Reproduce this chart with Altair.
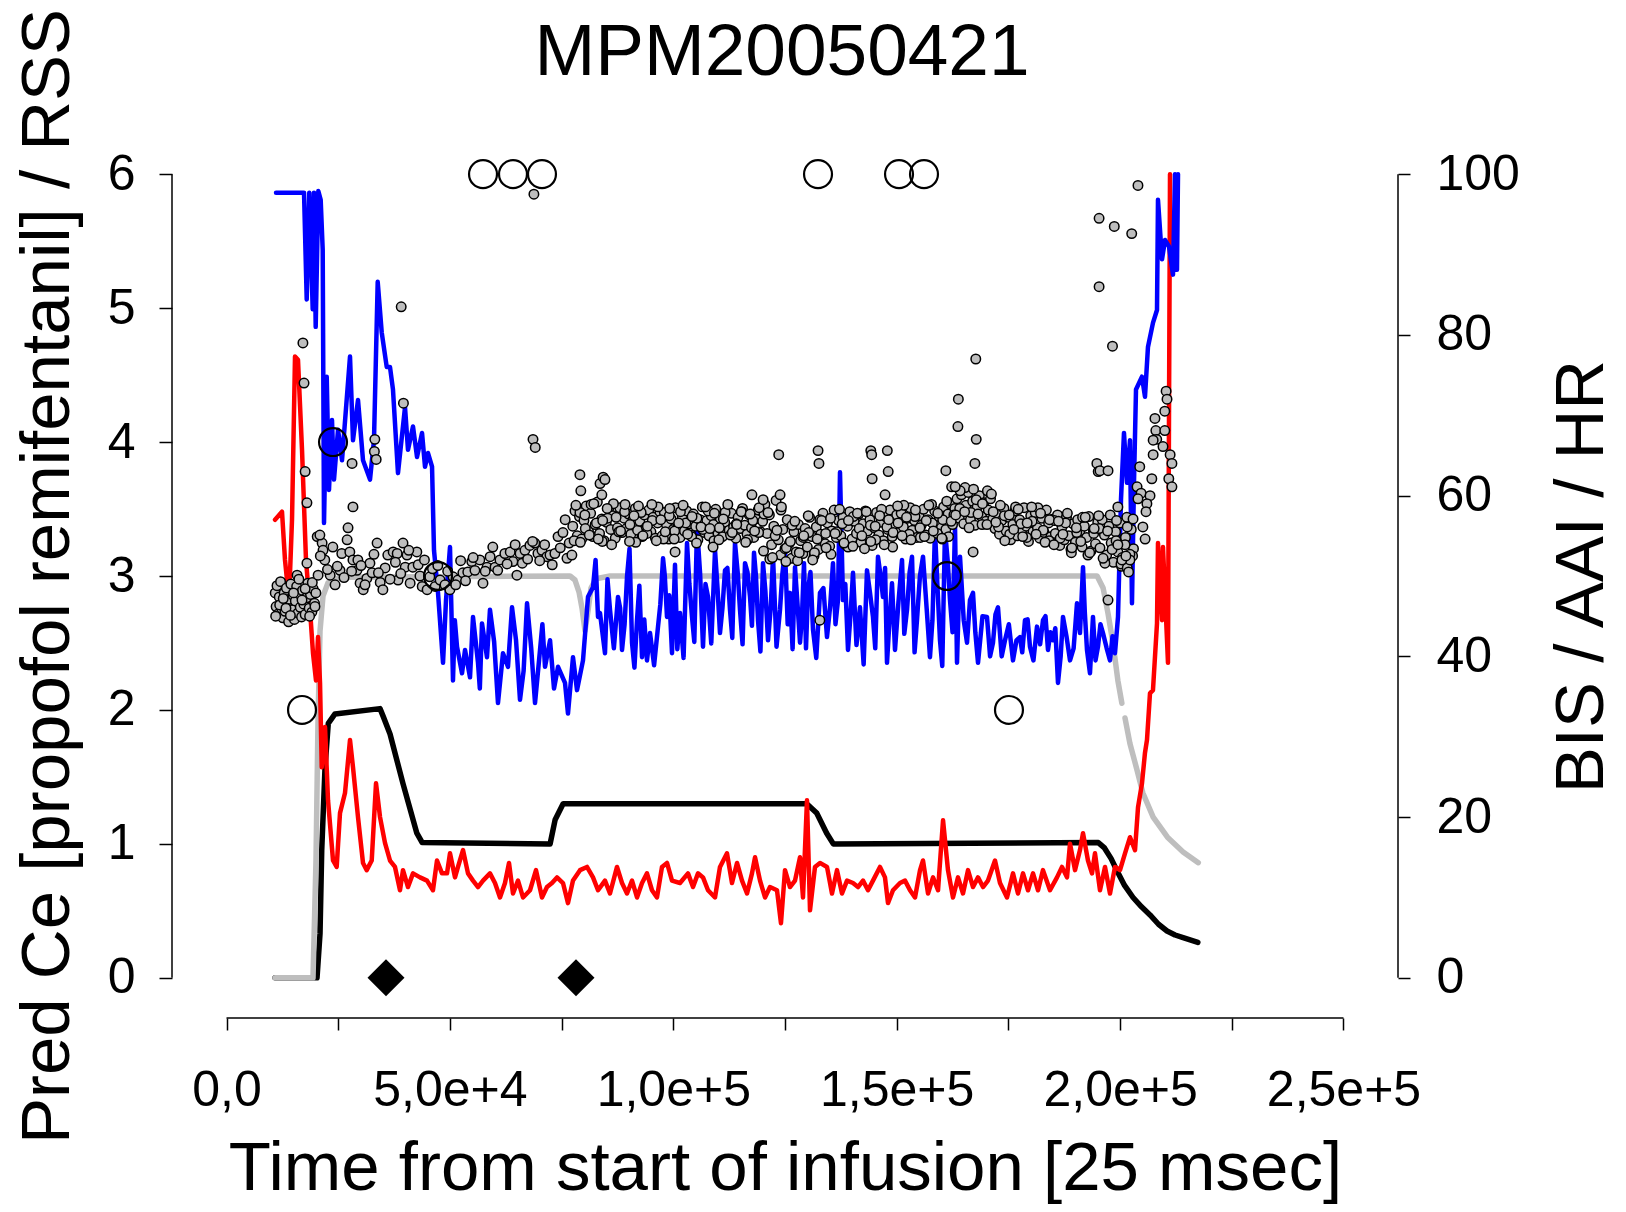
import altair as alt
import pandas as pd

# ------------------------------------------------------------------
# Data (time in thousands of 25-msec samples)
# ------------------------------------------------------------------
TIME_UNIT = 1000

# Predicted Ce propofol (grey line, left axis) - two pieces (gap near 2.0e5)
propofol_time_a = [10.86, 19.36, 20.03, 20.48, 20.93, 21.60, 22.72, 25.40, 76.88, 78.0, 78.9,
                   79.57, 80.24, 80.91, 81.58, 82.70, 85.83, 194.85, 196.2, 197.3, 198.4, 199.5, 200.4]
propofol_ce_a = [0, 0, 0.88, 1.92, 2.59, 2.85, 2.95, 2.99, 3.00, 2.97, 2.88,
                 2.76, 2.59, 2.74, 2.91, 2.98, 3.0, 3.0, 2.91, 2.72, 2.50, 2.22, 2.05]
propofol_time_b = [201.1, 202.2, 203.8, 205.1, 207.4, 210.6, 214.1, 217.5]
propofol_ce_b = [1.94, 1.75, 1.55, 1.38, 1.20, 1.05, 0.94, 0.86]

# Predicted Ce remifentanil (black line, left axis)
remi_time = [10.86, 20.26, 20.93, 21.31, 22.05, 22.78, 24.28, 34.36, 35.09, 36.6,
             39.5, 42.6, 43.8, 72.43, 73.55, 75.34, 129.86, 132.09, 134.33, 135.81,
             195.12, 196.5, 198.0, 199.3, 201.0, 202.9, 204.8, 206.7, 208.6, 210.5,
             212.3, 214.1, 217.4]
remi_ce = [0, 0, 0.33, 0.95, 1.57, 1.90, 1.97, 2.01, 1.95, 1.82,
           1.45, 1.08, 1.01, 1.00, 1.18, 1.30, 1.30, 1.23, 1.08, 1.00,
           1.01, 0.97, 0.89, 0.80, 0.69, 0.60, 0.53, 0.47, 0.40, 0.35,
           0.32, 0.30, 0.265]

# BIS (blue line, right axis)
bis_time = [11.08, 16.83, 17.35, 17.95, 18.53, 19.29, 19.58, 19.96, 20.55, 21.08,
            21.53, 21.82, 22.43, 22.94, 23.61, 24.06, 24.96, 25.85, 27.64, 28.31,
            29.43, 30.55, 32.12, 33.01, 33.84, 34.74, 35.86, 36.59, 37.26, 38.38,
            39.95, 40.62, 41.74, 42.64, 43.76, 44.43, 45.10, 46.0, 46.44, 47.34,
            48.46, 49.13, 50.02, 50.69, 51.59, 52.71, 53.38, 54.50, 55.17, 56.29,
            57.18, 58.30, 58.97, 60.76, 61.88, 63.0, 63.90, 65.69, 67.26, 69.05,
            70.17, 71.29, 72.41, 74.20, 75.76, 76.43, 77.55, 78.45, 79.79, 80.91,
            82.03, 83.15, 83.59, 84.71, 85.83, 87.62, 88.52, 89.64, 90.76, 91.88,
            93.0, 94.11, 94.79, 96.58, 97.70, 98.59, 99.71, 100.38, 101.50, 103.07,
            104.19, 105.31, 106.65, 107.77, 109.34, 110.45, 111.57, 112.69, 113.81, 114.93,
            116.05, 117.17, 118.06, 118.96, 120.08, 121.20, 122.32, 123.88, 125.0, 126.12,
            127.24, 128.36, 129.25, 130.15, 131.27, 132.83, 134.40, 135.74, 136.86, 137.31,
            137.98, 139.10, 140.22, 141.78, 143.35, 144.69, 145.81, 146.93, 147.83, 148.95,
            149.62, 151.19, 152.31, 153.43, 154.54, 155.89, 157.45, 158.57, 159.69, 160.81,
            161.93, 163.05, 163.50, 164.17, 165.74, 167.08, 168.20, 170.21, 171.55, 172.67,
            174.24, 176.03, 177.59, 178.71, 179.83, 181.40, 182.74, 183.86, 184.98, 186.10,
            187.22, 188.79, 190.35, 191.02, 191.70, 192.59, 193.26, 193.93, 195.05, 196.17,
            197.74, 198.86, 199.53, 200.20, 200.87, 201.54, 202.22, 202.66, 203.11, 203.56,
            204.90, 205.57, 206.24, 207.36, 208.26, 208.48, 209.38, 210.05, 210.94, 211.84,
            212.29, 212.73, 212.96]
bis_value = [97.7, 97.7, 97.7, 84.4, 97.7, 83.2, 97.7, 81.0, 97.9, 96.8,
             90.6, 56.6, 74.8, 60.7, 69.4, 62.0, 68.2, 64.4, 77.3, 66.9,
             71.9, 64.4, 62.0, 66.9, 86.6, 80.3, 76.0, 76.0, 73.2, 62.8,
             71.0, 65.7, 68.6, 64.8, 67.8, 63.6, 65.3, 63.6, 53.2, 47.9,
             39.2, 47.0, 53.6, 37.0, 41.2, 37.9, 40.8, 37.4, 44.9, 39.2,
             44.1, 39.9, 45.8, 34.2, 40.4, 38.7, 46.1, 34.6, 46.6, 34.2,
             40.8, 38.7, 42.0, 38.7, 36.7, 32.9, 39.9, 35.8, 39.5, 47.4,
             48.6, 44.9, 45.4, 40.4, 45.8, 47.4, 40.8, 49.9, 41.7, 44.5,
             39.9, 39.5, 42.9, 43.7, 52.2, 44.9, 40.4, 51.4, 45.4, 54.1,
             44.9, 56.1, 41.2, 47.4, 53.2, 42.9, 50.7, 45.8, 54.1, 45.8,
             51.6, 47.4, 52.9, 44.5, 51.6, 42.0, 52.4, 45.8, 53.2, 47.9,
             51.1, 41.7, 51.6, 48.3, 43.3, 47.9, 42.4, 51.6, 47.0, 62.9,
             47.0, 40.8, 50.4, 46.1, 50.7, 44.9, 52.4, 47.4, 39.2, 49.1,
             40.8, 52.0, 45.8, 52.4, 44.5, 52.4, 39.9, 55.7, 42.0, 55.7,
             47.0, 56.3, 39.2, 52.4, 41.7, 47.9, 39.2, 44.9, 41.7, 46.1,
             42.0, 39.5, 42.4, 44.5, 41.2, 43.7, 44.5, 40.8, 42.0, 36.7,
             44.9, 39.5, 46.6, 42.9, 51.1, 40.8, 37.9, 44.9, 41.2, 42.9,
             39.5, 40.4, 44.9, 59.5, 67.8, 61.6, 66.9, 46.6, 61.6, 73.2,
             74.8, 72.3, 78.5, 81.5, 83.1, 96.8, 89.4, 91.8, 91.0, 87.5,
             100.0, 88.1, 100.0]
# additional BIS samples in the noisy maintenance phase, as (time, value)
bis_extra = [
    (51.1, 44.5), (56.7, 36.0), (59.9, 41.8), (64.8, 42.0), (66.5, 38.2), (68.2, 41.0), (70.7, 44.0),
    (73.3, 36.0), (82.6, 52.0), (85.27, 49.6), (86.7, 41.0), (88.1, 46.0), (89.1, 44.0), (90.2, 53.4),
    (91.3, 38.6), (92.4, 48.8), (93.5, 44.6), (95.7, 38.9), (97.1, 46.5), (98.1, 50.0), (99.1, 47.6),
    (100.9, 40.9), (102.3, 39.8), (103.6, 49.0), (104.7, 41.8), (106.0, 50.3), (107.2, 49.0),
    (108.5, 41.6), (109.9, 48.5), (111.0, 46.0), (112.1, 51.0), (113.2, 42.3), (114.4, 50.5),
    (115.5, 41.5), (116.6, 50.5), (117.6, 43.8), (118.5, 50.0), (119.5, 40.6), (120.6, 48.2),
    (121.8, 46.0), (123.1, 41.2), (124.4, 50.2), (125.6, 44.0), (126.7, 40.9), (127.8, 46.5),
    (128.8, 45.0), (129.7, 41.0), (130.7, 50.5), (132.0, 39.8), (133.6, 48.5), (135.1, 46.2),
    (136.3, 44.0), (138.5, 49.0), (139.7, 45.5), (141.0, 41.4), (142.6, 39.0), (144.0, 48.0),
    (145.2, 41.0), (146.4, 50.0), (147.4, 51.0), (148.4, 44.6), (150.4, 46.8), (151.7, 42.8),
    (152.9, 50.5), (154.0, 40.5), (155.2, 50.0), (156.7, 46.0), (158.0, 44.5), (159.1, 49.0),
    (160.2, 38.8), (161.4, 52.0), (162.5, 43.0), (165.0, 44.5), (166.4, 47.0), (167.6, 43.0),
    (169.2, 45.0), (170.9, 40.0), (172.1, 45.2), (173.5, 40.0), (175.1, 44.0), (176.8, 42.0),
    (178.1, 40.5), (179.3, 44.6), (180.6, 39.5), (182.1, 41.5), (183.3, 45.0), (184.4, 43.0),
    (185.5, 43.5), (186.7, 40.0), (188.0, 42.5), (189.6, 41.0), (192.1, 45.5), (194.5, 39.5),
    (195.6, 44.0), (197.0, 41.0), (198.3, 42.5)]

# AAI (red line, right axis)
aai_time = [10.86, 12.42, 13.09, 13.99, 14.66, 15.33, 16.00, 16.90, 17.79, 18.69,
            19.36, 20.03, 20.48, 20.93, 21.31, 22.05, 22.72, 23.84, 24.66, 25.40,
            26.52, 27.64, 28.31, 29.43, 30.55, 31.38, 32.50, 33.46, 34.36, 35.47,
            36.59, 37.71, 38.83, 39.50, 40.62, 41.74, 43.31, 44.87, 46.21, 47.11,
            48.23, 49.35, 50.02, 51.14, 51.81, 52.93, 54.05, 55.17, 56.29, 57.41,
            58.97, 60.09, 61.21, 62.33, 63.23, 64.12, 65.24, 66.36, 67.93, 69.27,
            70.61, 71.73, 72.85, 73.97, 75.31, 76.43, 77.55, 79.12, 80.68, 82.03,
            83.15, 84.71, 85.83, 87.40, 88.52, 89.64, 90.76, 91.88, 93.0, 94.11,
            95.23, 96.35, 97.47, 98.59, 99.71, 101.50, 103.29, 104.41, 105.53, 106.65,
            107.77, 109.34, 110.45, 112.02, 113.14, 114.26, 115.38, 116.50, 117.61, 118.29,
            119.41, 120.53, 121.64, 123.21, 124.10, 125.0, 126.12, 127.24, 128.36, 129.03,
            129.92, 130.60, 131.71, 132.83, 134.40, 135.52, 136.64, 137.76, 138.88, 140.22,
            141.34, 142.46, 143.58, 144.69, 146.26, 147.38, 148.05, 149.17, 150.74, 151.86,
            152.98, 154.10, 155.22, 155.89, 157.01, 158.13, 159.25, 160.37, 161.48, 162.60,
            163.72, 164.84, 165.96, 167.08, 168.20, 169.32, 170.43, 172.0, 173.12, 174.69,
            176.03, 177.15, 178.27, 179.39, 180.51, 181.63, 182.74, 184.31, 185.88, 187.0,
            188.12, 188.79, 189.91, 191.02, 191.70, 192.81, 193.71, 194.38, 195.50, 196.62,
            197.74, 198.86, 199.98, 201.10, 202.22, 203.34, 204.01, 204.90, 205.57, 206.02,
            206.69, 207.36, 208.26, 208.48, 209.38, 209.60, 210.72, 211.17]
aai_value = [57.0, 58.0, 52.0, 47.0, 57.0, 77.3, 76.9, 65.7, 52.0, 45.8,
             40.4, 37.0, 42.4, 36.7, 26.2, 31.2, 22.1, 14.6, 13.8, 20.5,
             23.0, 29.6, 26.2, 20.0, 14.3, 13.4, 14.6, 24.2, 20.0, 16.8,
             14.6, 13.8, 10.9, 13.4, 11.3, 13.0, 12.5, 12.1, 10.9, 14.6,
             13.0, 13.0, 15.5, 12.5, 13.8, 15.9, 13.0, 12.1, 11.3, 12.1,
             13.0, 11.8, 10.0, 11.8, 14.3, 10.5, 12.1, 10.0, 10.9, 13.4,
             10.0, 11.3, 11.8, 12.5, 11.8, 9.3, 12.1, 13.4, 13.8, 12.5,
             10.9, 12.1, 10.5, 13.8, 11.8, 10.5, 12.1, 10.0, 11.8, 13.0,
             10.9, 10.0, 13.8, 14.3, 12.1, 11.8, 13.0, 11.3, 13.0, 12.5,
             10.9, 10.0, 13.8, 15.5, 11.8, 14.3, 12.1, 10.5, 13.0, 15.0,
             12.1, 10.0, 11.3, 10.9, 6.8, 13.4, 11.3, 12.1, 15.0, 10.0,
             22.1, 8.4, 13.8, 14.3, 13.8, 10.5, 13.4, 10.5, 12.1, 11.8,
             11.3, 12.1, 10.9, 12.1, 13.8, 12.5, 9.3, 10.9, 11.8, 12.1,
             10.9, 10.0, 13.4, 14.6, 10.5, 12.5, 10.9, 19.6, 13.4, 10.0,
             12.5, 10.5, 13.4, 11.3, 12.5, 11.3, 12.1, 14.6, 11.8, 10.0,
             13.0, 10.5, 13.0, 10.9, 13.0, 10.9, 13.4, 10.9, 12.5, 13.8,
             12.5, 16.7, 13.4, 15.9, 18.0, 14.6, 13.0, 15.5, 10.9, 13.8,
             10.5, 13.8, 13.4, 15.5, 17.5, 15.9, 21.2, 24.2, 28.0, 29.6,
             35.4, 35.8, 44.1, 54.1, 44.5, 53.6, 39.2, 100.0]

# Heart rate (grey dots, right axis) as (time, value) pairs
hr_induction = [(10.9, 47.9), (11.1, 46.2), (11.3, 48.8), (11.6, 45.3), (11.8, 47.4), (12.1, 49.3),
                (12.3, 46.0), (12.6, 44.8), (12.9, 47.9), (13.1, 45.6), (13.4, 48.5), (13.6, 46.7),
                (13.9, 44.3), (14.1, 47.1), (14.4, 49.0), (14.7, 45.8), (14.9, 47.6), (15.2, 44.6),
                (15.4, 46.9), (15.7, 48.7), (16.0, 45.4), (16.2, 47.8), (16.5, 46.1), (16.8, 44.9),
                (17.0, 48.2), (17.3, 46.5), (17.6, 45.2), (17.9, 47.3), (18.2, 49.1), (18.5, 46.0),
                (18.8, 47.7), (19.1, 45.5), (19.4, 48.4), (19.7, 46.6), (20.0, 47.9),
                (11.0, 45.0), (11.9, 46.4), (12.7, 47.2), (13.3, 46.0), (14.3, 45.1), (15.0, 47.9),
                (15.8, 50.1), (16.2, 49.6), (16.9, 47.0), (17.6, 48.4), (18.0, 51.6), (18.6, 45.0),
                (19.2, 49.2), (19.8, 46.2)]
hr_early = [(20.3, 54.9), (21.4, 54.1), (21.6, 53.2), (22.0, 52.0), (20.5, 50.1), (23.2, 50.1),
            (24.3, 48.9), (25.4, 50.7), (25.8, 52.8), (27.0, 54.5), (27.2, 56.0), (27.6, 53.0),
            (28.3, 52.0), (29.4, 52.0), (29.2, 50.7), (29.9, 49.1), (30.6, 48.3), (31.4, 49.7),
            (32.1, 51.6), (32.6, 50.4), (33.7, 54.1), (34.4, 49.2), (35.0, 48.3), (35.5, 51.0),
            (36.1, 52.6), (37.3, 53.0), (38.2, 52.8), (38.4, 49.5), (39.5, 54.1), (40.0, 51.1),
            (40.4, 52.6), (41.1, 49.1), (41.7, 51.1), (42.6, 53.0), (42.9, 51.4), (43.8, 48.7),
            (44.9, 48.3), (45.5, 49.9), (46.7, 48.7), (47.8, 49.5), (48.9, 48.9), (50.0, 48.3),
            (50.7, 49.9), (51.8, 49.5), (52.9, 50.4), (54.0, 50.5), (54.9, 51.8), (55.6, 50.7),
            (56.7, 52.0), (57.4, 49.1), (58.3, 51.1), (59.0, 52.4), (60.1, 51.1), (61.2, 52.0),
            (62.3, 52.8), (63.5, 53.0), (64.1, 51.8), (65.0, 50.1), (65.7, 52.8), (66.8, 53.2),
            (67.9, 53.8), (69.0, 54.1), (69.7, 52.8), (70.6, 53.2), (71.7, 52.4), (72.4, 52.6),
            (73.5, 52.8), (74.2, 54.9), (75.3, 55.4), (76.2, 52.2), (77.3, 52.6), (75.8, 57.0),
            (21.0, 52.5), (22.6, 50.8), (23.8, 53.6), (24.8, 51.2), (26.3, 49.8), (28.0, 50.6),
            (30.1, 51.3), (31.0, 48.9), (33.0, 52.7), (34.0, 50.4), (36.6, 49.6), (37.8, 51.7),
            (39.0, 50.3), (40.8, 53.2), (43.3, 50.0), (44.3, 52.0), (46.1, 50.9), (47.3, 51.3),
            (49.5, 50.6), (51.3, 48.9), (52.4, 51.9), (53.5, 49.4), (55.2, 52.3), (57.9, 50.6),
            (59.6, 53.6), (60.7, 50.7), (62.8, 51.5), (64.6, 53.9), (66.2, 51.6), (67.4, 52.1),
            (68.5, 54.3), (70.1, 51.9), (71.2, 53.9), (72.9, 51.4), (74.7, 53.5), (76.7, 54.1)]
hr_maintenance = [
    (77.5, 56.2), (78.0, 58.1), (78.5, 55.0), (79.0, 57.4), (79.5, 54.6), (80.0, 56.9), (80.5, 58.7),
    (81.0, 55.6), (81.5, 57.8), (82.0, 54.9), (82.5, 56.4), (83.0, 59.2), (83.5, 55.3), (84.0, 57.1),
    (84.5, 54.4), (85.0, 56.7), (85.5, 58.3), (86.0, 55.8), (86.5, 57.5), (87.0, 54.7), (87.5, 56.0),
    (88.0, 58.5), (88.5, 55.4), (89.0, 57.2), (89.5, 55.9), (90.0, 57.7),
    (90.5, 55.2), (91.0, 57.0), (91.5, 58.4), (92.0, 55.7), (92.5, 56.8), (93.0, 54.9), (93.5, 57.6),
    (94.0, 56.1), (94.5, 58.2), (95.0, 55.5), (95.5, 57.3), (96.0, 54.7), (96.5, 56.6), (97.0, 58.0),
    (97.5, 55.0), (98.0, 57.9), (98.5, 56.3), (99.0, 54.6), (99.5, 57.1), (100.0, 55.8), (100.5, 58.5),
    (101.0, 56.0), (101.5, 54.8), (102.0, 57.4), (102.5, 55.6), (103.0, 58.1), (103.5, 56.5),
    (104.0, 55.1), (104.5, 57.7), (105.0, 56.2), (105.5, 54.5), (106.0, 57.0), (106.5, 58.6),
    (107.0, 55.4), (107.5, 56.9), (108.0, 55.0), (108.5, 57.5), (109.0, 56.4), (109.5, 58.3),
    (110.0, 55.3), (110.5, 57.2), (111.0, 54.9), (111.5, 56.7), (112.0, 58.0), (112.5, 55.7),
    (113.0, 57.8), (113.5, 56.1), (114.0, 54.7), (114.5, 57.3), (115.0, 55.9), (115.5, 58.4),
    (116.0, 56.3), (116.5, 55.2), (117.0, 57.6), (117.5, 56.0), (118.0, 54.8), (118.5, 57.1),
    (119.0, 58.2), (119.5, 55.5), (120.0, 56.8),
    (120.5, 58.9), (121.0, 55.3), (121.5, 57.6), (122.0, 53.9), (122.5, 56.2), (123.0, 59.4),
    (123.5, 54.5), (124.0, 52.6), (124.5, 55.8), (125.0, 53.4), (125.5, 57.0), (126.0, 54.1),
    (126.5, 52.2), (127.0, 55.5), (127.5, 53.0), (128.0, 56.4), (128.5, 54.4), (129.0, 52.8),
    (129.5, 55.9), (130.0, 53.6), (130.5, 57.3), (131.0, 54.9), (131.5, 52.5), (132.0, 56.1),
    (132.5, 53.3), (133.0, 55.2), (133.5, 57.8), (134.0, 54.0), (134.5, 56.6), (135.0, 53.7),
    (135.5, 55.6), (136.0, 58.2), (136.5, 54.8), (137.0, 56.9),
    (137.5, 55.0), (138.0, 57.3), (138.5, 53.9), (139.0, 56.2), (139.5, 58.0), (140.0, 54.6),
    (140.5, 56.8), (141.0, 55.3), (141.5, 57.7), (142.0, 54.2), (142.5, 56.5), (143.0, 58.1),
    (143.5, 55.6), (144.0, 57.0), (144.5, 53.8), (145.0, 56.0), (145.5, 57.9), (146.0, 55.1),
    (146.5, 56.7), (147.0, 54.4), (147.5, 57.4), (148.0, 55.8), (148.5, 58.2), (149.0, 54.9),
    (149.5, 56.4), (150.0, 57.6),
    (150.5, 55.4), (151.0, 57.8), (151.5, 56.1), (152.0, 54.6), (152.5, 57.2), (153.0, 58.5),
    (153.5, 55.7), (154.0, 56.9), (154.5, 54.8), (155.0, 57.5), (155.5, 56.3), (156.0, 58.3),
    (156.5, 55.1), (157.0, 57.0), (157.5, 54.7), (158.0, 56.6), (158.5, 58.1), (159.0, 55.5),
    (159.5, 57.4), (160.0, 56.0), (160.5, 58.6), (161.0, 55.8), (161.5, 57.7), (162.0, 59.0),
    (162.5, 56.4), (163.0, 58.4),
    (163.5, 59.6), (164.0, 57.2), (164.5, 60.1), (165.0, 56.5), (165.5, 58.8), (166.0, 60.4),
    (166.5, 57.0), (167.0, 59.3), (167.5, 56.3), (168.0, 58.6), (168.5, 60.0), (169.0, 57.4),
    (169.5, 59.1), (170.0, 56.8), (170.5, 58.2), (171.0, 59.6), (171.5, 57.1), (172.0, 55.9),
    (172.5, 57.8), (173.0, 55.2), (173.5, 56.9), (174.0, 58.4), (174.5, 55.6), (175.0, 57.3),
    (175.5, 54.5), (176.0, 56.4), (176.5, 58.1), (177.0, 55.0), (177.5, 57.0), (178.0, 55.8),
    (178.5, 58.5), (179.0, 56.2), (179.5, 54.3), (180.0, 57.5), (180.5, 55.5), (181.0, 57.9),
    (181.5, 56.0), (182.0, 54.7), (182.5, 57.2), (183.0, 55.4), (183.5, 58.2), (184.0, 56.6),
    (184.5, 54.9), (185.0, 57.1),
    (185.5, 55.3), (186.0, 57.6), (186.5, 53.8), (187.0, 56.1), (187.5, 54.5), (188.0, 57.3),
    (188.5, 55.0), (189.0, 53.3), (189.5, 56.5), (190.0, 54.2), (190.5, 57.0), (191.0, 55.6),
    (191.5, 53.6), (192.0, 56.2), (192.5, 54.8), (193.0, 57.4), (193.5, 53.1), (194.0, 55.7),
    (194.5, 54.0), (195.0, 56.7),
    (195.5, 53.5), (196.0, 57.0), (196.5, 55.1), (197.0, 52.6), (197.5, 56.2), (198.0, 54.1),
    (198.5, 51.7), (199.0, 55.5), (199.5, 53.0), (200.0, 56.6), (200.5, 52.3), (201.0, 54.7),
    (201.5, 57.3), (202.0, 51.9), (202.5, 55.8), (203.0, 53.4)]
hr_maintenance_2 = [
    (77.8, 54.4), (79.1, 57.9), (80.3, 55.9), (81.6, 58.9), (82.8, 56.6), (84.1, 54.3), (85.3, 57.2),
    (86.6, 59.0), (87.8, 55.5), (89.1, 58.0), (90.3, 56.4), (91.6, 54.2), (92.8, 57.9), (94.1, 55.3),
    (95.3, 56.9), (96.6, 58.6), (97.8, 54.6), (99.1, 57.5), (100.3, 55.6), (101.6, 58.0), (102.8, 56.6),
    (104.1, 54.9), (105.3, 57.2), (106.6, 55.8), (107.8, 58.1), (109.1, 54.4), (110.3, 56.0),
    (111.6, 57.9), (112.8, 55.1), (114.1, 56.5), (115.3, 58.0), (116.6, 54.5), (117.8, 56.9),
    (119.1, 55.4), (120.3, 57.7), (121.6, 52.1), (122.8, 55.0), (124.1, 58.2), (125.3, 53.5),
    (126.6, 56.3), (127.8, 51.9), (129.1, 54.8), (130.3, 55.4), (131.6, 52.9), (132.8, 57.0),
    (134.1, 55.3), (135.3, 52.7), (136.6, 55.5), (137.8, 56.5), (139.1, 53.6), (140.3, 57.4),
    (141.6, 55.9), (142.8, 53.4), (144.1, 56.3), (145.3, 54.5), (146.6, 58.3), (147.8, 56.1),
    (149.1, 53.6), (150.3, 56.6), (151.6, 58.8), (152.8, 55.2), (154.1, 57.4), (155.3, 54.8),
    (156.6, 56.9), (157.8, 58.9), (159.1, 55.3), (160.3, 57.0), (161.6, 54.9), (162.8, 57.6),
    (164.1, 58.4), (165.3, 61.0), (166.6, 57.9), (167.8, 59.5), (169.1, 56.4), (170.3, 60.6),
    (171.6, 58.0), (172.8, 56.1), (174.1, 57.5), (175.3, 55.2), (176.6, 58.6), (177.8, 56.5),
    (179.1, 54.8), (180.3, 56.8), (181.6, 58.5), (182.8, 55.7), (184.1, 54.4), (185.3, 56.9),
    (186.6, 54.7), (187.8, 56.6), (189.1, 52.9), (190.3, 55.4), (191.6, 57.3), (192.8, 52.6),
    (194.1, 55.3), (195.3, 55.9), (196.6, 51.6), (197.8, 57.6), (199.1, 54.4), (200.3, 51.2),
    (201.6, 56.1), (202.8, 52.5)]
hr_maintenance_3 = [
    (78.2, 58.8), (79.2, 54.2), (80.2, 57.6), (81.2, 55.1), (82.2, 59.0), (83.2, 54.6), (84.2, 56.9),
    (85.2, 58.4), (86.2, 53.9), (87.2, 57.3), (88.2, 55.6), (89.2, 58.9),
    (90.2, 54.3), (91.2, 57.5), (92.2, 58.7), (93.2, 55.0), (94.2, 56.2), (95.2, 58.9), (96.2, 54.4),
    (97.2, 57.0), (98.2, 55.5), (99.2, 58.4), (100.2, 54.6), (101.2, 56.6), (102.2, 58.8), (103.2, 55.2),
    (104.2, 57.4), (105.2, 54.1), (106.2, 56.1), (107.2, 58.6), (108.2, 55.9), (109.2, 57.8),
    (110.2, 54.5), (111.2, 57.1), (112.2, 58.9), (113.2, 55.4), (114.2, 56.4), (115.2, 58.0),
    (116.2, 54.2), (117.2, 57.7), (118.2, 55.6), (119.2, 58.5),
    (120.2, 53.1), (121.2, 57.9), (122.2, 52.3), (123.2, 55.7), (124.2, 58.6), (125.2, 51.8),
    (126.2, 54.3), (127.2, 56.8), (128.2, 52.9), (129.2, 55.0), (130.2, 57.5), (131.2, 52.0),
    (132.2, 54.6), (133.2, 56.9), (134.2, 53.5), (135.2, 57.2), (136.2, 55.3),
    (137.2, 58.3), (138.2, 54.1), (139.2, 56.9), (140.2, 53.7), (141.2, 57.8), (142.2, 55.0),
    (143.2, 58.0), (144.2, 54.3), (145.2, 56.2), (146.2, 57.5), (147.2, 53.9), (148.2, 57.0),
    (149.2, 55.4),
    (150.2, 58.7), (151.2, 55.0), (152.2, 57.3), (153.2, 54.5), (154.2, 58.2), (155.2, 56.0),
    (156.2, 54.9), (157.2, 58.8), (158.2, 55.6), (159.2, 57.8), (160.2, 54.6), (161.2, 59.3),
    (162.2, 56.8),
    (163.2, 57.6), (164.2, 60.6), (165.2, 58.0), (166.2, 56.0), (167.2, 60.8), (168.2, 57.7),
    (169.2, 59.0), (170.2, 56.4), (171.2, 60.2),
    (172.2, 56.7), (173.2, 58.8), (174.2, 54.4), (175.2, 57.6), (176.2, 55.8), (177.2, 58.3),
    (178.2, 54.9), (179.2, 56.6), (180.2, 58.6), (181.2, 55.2), (182.2, 57.8), (183.2, 54.2),
    (184.2, 57.0),
    (185.2, 53.9), (186.2, 56.8), (187.2, 55.2), (188.2, 57.8), (189.2, 53.5), (190.2, 56.0),
    (191.2, 54.3), (192.2, 57.3), (193.2, 52.9), (194.2, 55.9),
    (195.2, 57.5), (196.2, 52.2), (197.2, 55.6), (198.2, 53.3), (199.2, 56.9), (200.2, 51.5),
    (201.2, 54.8), (202.2, 52.7)]
hr_outliers = [
    (17.1, 79.0), (17.35, 74.0), (17.6, 63.0), (18.0, 59.1), (20.9, 55.1), (28.1, 64.0), (28.3, 58.6),
    (33.2, 67.0), (33.1, 65.5), (33.5, 64.5), (39.1, 83.5), (39.6, 71.5), (68.6, 67.0), (69.1, 66.0),
    (68.8, 97.5), (79.1, 62.6), (79.3, 60.6), (83.6, 61.5), (84.3, 62.3), (84.7, 62.0), (84.0, 60.1),
    (100.4, 53.0), (108.9, 53.6), (117.6, 60.1), (123.6, 65.1), (132.4, 65.6), (132.6, 64.0),
    (123.9, 60.1), (120.1, 59.5), (132.8, 44.5), (144.2, 65.6), (144.4, 65.1), (144.5, 62.1),
    (147.9, 65.6), (148.1, 63.0), (147.4, 60.1), (160.1, 54.7), (161.0, 63.1), (162.3, 61.1),
    (163.1, 61.1), (163.8, 72.0), (163.7, 68.6), (167.7, 77.0), (167.8, 67.0), (167.5, 64.0),
    (167.1, 53.0), (195.3, 94.5), (195.3, 86.0), (194.8, 64.0), (195.1, 63.0), (195.5, 63.1),
    (197.3, 63.1), (198.7, 93.5), (202.6, 92.6), (204.0, 98.6), (198.3, 78.6), (197.3, 47.0),
    (199.5, 58.6), (202.9, 57.1), (205.1, 56.1), (205.6, 54.6), (203.8, 61.1), (204.7, 60.3),
    (204.0, 59.6), (206.7, 60.0), (206.0, 59.0), (205.8, 58.0), (207.8, 69.6), (208.0, 68.1),
    (210.0, 68.1), (208.2, 67.0), (207.4, 66.9), (209.6, 66.1), (207.4, 65.1), (210.3, 73.0),
    (210.5, 72.0), (210.0, 70.5), (211.2, 65.1), (211.6, 64.0), (210.9, 62.1), (211.6, 61.1),
    (204.4, 63.6), (207.1, 62.1), (201.6, 51.0), (202.2, 52.0), (201.1, 53.9), (199.5, 53.9),
    (200.4, 52.0), (201.3, 52.5), (201.9, 50.5)]

# RSS (open circles, left axis)
rss_time = [16.90, 23.84, 47.34, 57.41, 64.12, 70.61, 132.39, 150.52, 156.11, 161.26, 175.13]
rss_value = [2, 4, 3, 6, 6, 6, 6, 6, 6, 3, 2]

# Events (black diamonds, left axis)
event_time = [35.70, 78.22]
event_value = [0, 0]

# Axis ticks and labels
left_ticks = [0, 1, 2, 3, 4, 5, 6]
right_ticks = [0, 20, 40, 60, 80, 100]
x_ticks = [0, 25000, 50000, 75000, 100000, 125000, 150000, 175000, 200000, 225000, 250000]
x_label_values = [0, 50000, 100000, 150000, 200000, 250000]
x_label_text = ["0,0", "5,0e+4", "1,0e+5", "1,5e+5", "2,0e+5", "2,5e+5"]

TITLE = "MPM20050421"
LEFT_TITLE = "Pred Ce [propofol remifentanil] / RSS"
RIGHT_TITLE = "BIS / AAI / HR"
X_TITLE = "Time from start of infusion [25 msec]"

# ------------------------------------------------------------------
# Build tables
# ------------------------------------------------------------------
def series(times, values):
    return pd.DataFrame({"t": [t * TIME_UNIT for t in times], "v": values})

def pairs(*groups):
    rows = [p for g in groups for p in g]
    return pd.DataFrame({"t": [p[0] * TIME_UNIT for p in rows], "v": [p[1] for p in rows]})

prop_a = series(propofol_time_a, propofol_ce_a); prop_a["seg"] = "a"
prop_b = series(propofol_time_b, propofol_ce_b); prop_b["seg"] = "b"
prop_df = pd.concat([prop_a, prop_b], ignore_index=True)
remi_df = series(remi_time, remi_ce)
bis_df = pd.concat([series(bis_time, bis_value), pairs(bis_extra)], ignore_index=True)
bis_df = bis_df.sort_values("t").reset_index(drop=True)
aai_df = series(aai_time, aai_value)
hr_df = pairs(hr_induction, hr_early, hr_maintenance, hr_maintenance_2, hr_maintenance_3, hr_outliers)
rss_df = series(rss_time, rss_value)
event_df = series(event_time, event_value)

# ------------------------------------------------------------------
# Layout
# ------------------------------------------------------------------
W, H = 1226, 868
FONT = "Liberation Sans"
xs = alt.Scale(domain=[-12200, 262200], nice=False, zero=False)
yl = alt.Scale(domain=[-0.24, 6.24], nice=False, zero=False)
yr = alt.Scale(domain=[-4, 104], nice=False, zero=False)

label_expr = "".join(
    f"datum.value == {v} ? '{s}' : " for v, s in zip(x_label_values, x_label_text)
) + "''"

axis_common = dict(domain=False, grid=False, tickColor="black", tickWidth=1.5,
                   labelFont=FONT, labelColor="black", labelFontSize=50,
                   titleFont=FONT, titleColor="black", titleFontSize=69,
                   titleFontWeight="normal", labelOverlap=False, labelFlush=False)

X_AXIS = alt.Axis(orient="bottom", values=x_ticks, offset=8, tickSize=12, labelPadding=75,
                  labelBaseline="alphabetic", labelExpr=label_expr,
                  title=X_TITLE, titleX=W / 2, titleY=171, titleAlign="center",
                  titleBaseline="alphabetic", **axis_common)
X_ENC = alt.X("t:Q", scale=xs, axis=X_AXIS)

left_axis = alt.Chart(pd.DataFrame({"a": [left_ticks[0]], "b": [left_ticks[-1]]})).mark_rule(
    color="black", strokeWidth=1.5
).encode(
    x=alt.value(0),
    y=alt.Y("a:Q", scale=yl, axis=alt.Axis(
        orient="left", values=left_ticks, tickSize=13, labelPadding=24,
        title=LEFT_TITLE, titleAngle=270, titleX=-125, titleY=H / 2,
        titleAlign="center", titleBaseline="middle", **axis_common)),
    y2="b:Q",
)

right_axis = alt.Chart(pd.DataFrame({"a": [right_ticks[0]], "b": [right_ticks[-1]]})).mark_rule(
    color="black", strokeWidth=1.5
).encode(
    x=alt.value(W),
    y=alt.Y("a:Q", scale=yr, axis=alt.Axis(
        orient="right", values=right_ticks, tickSize=12, labelPadding=26,
        title=RIGHT_TITLE, titleAngle=270, titleX=183, titleY=H / 2,
        titleAlign="center", titleBaseline="middle", **axis_common)),
    y2="b:Q",
)

x_axis_line = alt.Chart(pd.DataFrame({"t": [x_ticks[0]], "t2": [x_ticks[-1]]})).mark_rule(
    color="black", strokeWidth=1.5
).encode(
    x=X_ENC,
    x2="t2:Q",
    y=alt.value(H + 8),
)

title_text = alt.Chart(pd.DataFrame({"label": [TITLE]})).mark_text(
    font=FONT, fontSize=73, color="black", align="center", baseline="alphabetic"
).encode(
    text="label:N",
    x=alt.value(W / 2 - 3),
    y=alt.value(-67),
)

line_style = dict(strokeCap="round", strokeJoin="round")

remi_line = alt.Chart(remi_df).mark_line(color="black", strokeWidth=5.5, **line_style).encode(
    x=X_ENC, y=alt.Y("v:Q", scale=yl, axis=None))

prop_line = alt.Chart(prop_df).mark_line(color="#BEBEBE", strokeWidth=5.5, **line_style).encode(
    x=X_ENC, y=alt.Y("v:Q", scale=yl, axis=None), detail="seg:N")

aai_line = alt.Chart(aai_df).mark_line(color="#FF0000", strokeWidth=4.5, **line_style).encode(
    x=X_ENC, y=alt.Y("v:Q", scale=yr, axis=None))

bis_line = alt.Chart(bis_df).mark_line(color="#0000FF", strokeWidth=4.5, **line_style).encode(
    x=X_ENC, y=alt.Y("v:Q", scale=yr, axis=None))

hr_points = alt.Chart(hr_df).mark_circle(
    size=90, fill="#BEBEBE", stroke="black", strokeWidth=1.5, opacity=1
).encode(x=X_ENC, y=alt.Y("v:Q", scale=yr, axis=None))

rss_points = alt.Chart(rss_df).mark_point(
    shape="circle", size=780, filled=False, stroke="black", strokeWidth=2.2, opacity=1
).encode(x=X_ENC, y=alt.Y("v:Q", scale=yl, axis=None))

event_points = alt.Chart(event_df).mark_point(
    shape="diamond", size=1369, filled=True, color="black", opacity=1
).encode(x=X_ENC, y=alt.Y("v:Q", scale=yl, axis=None))

chart = alt.layer(
    left_axis, x_axis_line, right_axis,
    remi_line, prop_line, aai_line, bis_line, hr_points, rss_points, event_points,
    title_text,
).resolve_scale(
    y="independent"
).properties(
    width=W, height=H,
    autosize=alt.AutoSizeParams(type="none"),
    padding={"left": 164, "top": 134, "right": 220, "bottom": 194},
).configure_view(stroke=None)

chart.save("out.html", embed_options={"renderer": "svg", "actions": False})
